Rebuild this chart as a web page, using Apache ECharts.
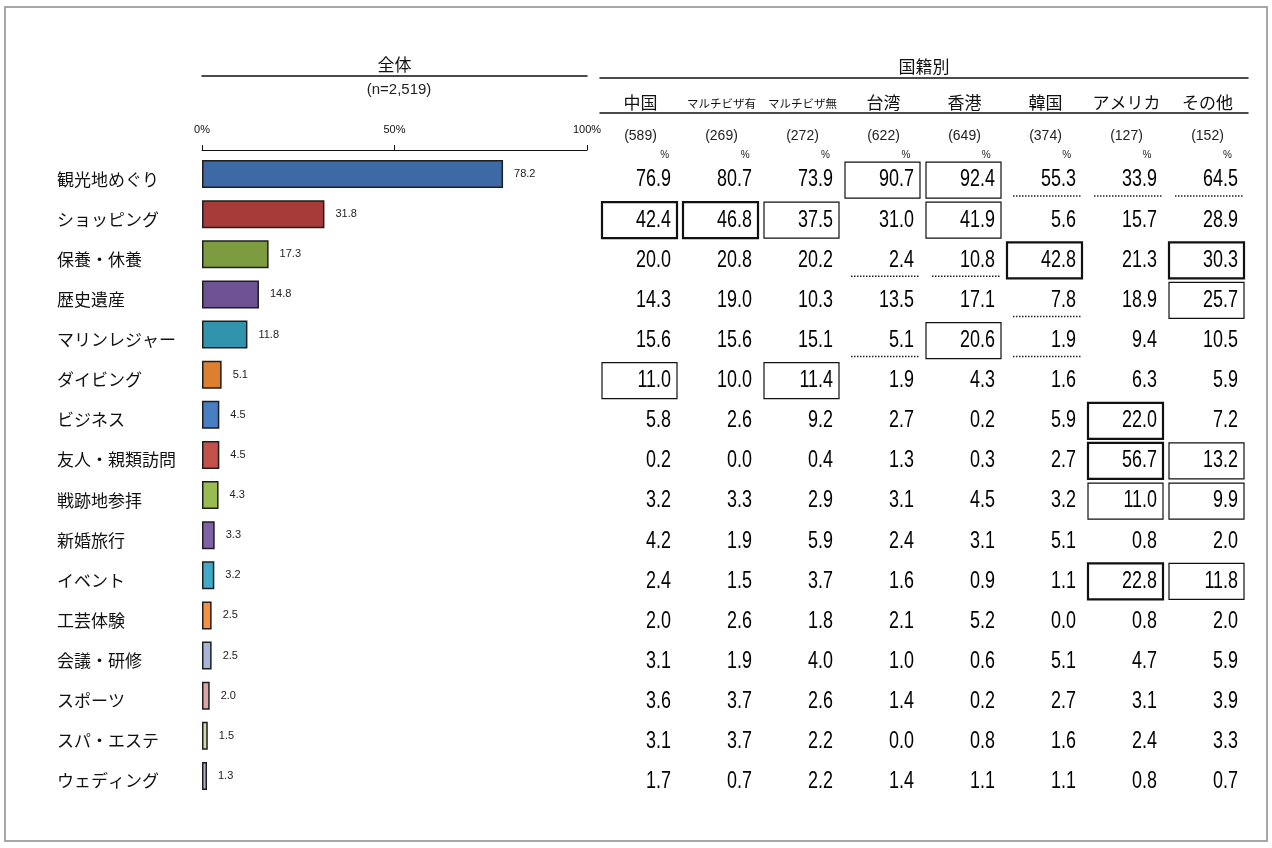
<!DOCTYPE html>
<html lang="ja">
<head>
<meta charset="UTF-8">
<title>観光目的（国籍別）</title>
<style>
    html, body { margin: 0; width: 100%; height: 100%; background: #fff; }
    #main { width: 1272px; height: 848px; }
</style>
</head>
<body>
<div id="main"></div>
<script src="https://cdn.jsdelivr.net/npm/echarts@6/dist/echarts.min.js"></script>
<script>
    var categories = ['観光地めぐり', 'ショッピング', '保養・休養', '歴史遺産', 'マリンレジャー', 'ダイビング',
        'ビジネス', '友人・親類訪問', '戦跡地参拝', '新婚旅行', 'イベント', '工芸体験', '会議・研修',
        'スポーツ', 'スパ・エステ', 'ウェディング'];
    var total = [78.2, 31.8, 17.3, 14.8, 11.8, 5.1, 4.5, 4.5, 4.3, 3.3, 3.2, 2.5, 2.5, 2.0, 1.5, 1.3];
    var barColors = ['#3d69a4', '#a63b3a', '#7d9c40', '#6d5294', '#3293ad', '#dc7f2e', '#4a7ec2', '#c4504c',
        '#98bb52', '#7f62a6', '#41aac6', '#f6923f', '#a9b4da', '#dba6a5', '#cfdcb0', '#b4b1c9'];

    var columns = ['中国', 'マルチビザ有', 'マルチビザ無', '台湾', '香港', '韓国', 'アメリカ', 'その他'];
    var sampleSizes = ['(589)', '(269)', '(272)', '(622)', '(649)', '(374)', '(127)', '(152)'];

    var china = [76.9, 42.4, 20.0, 14.3, 15.6, 11.0, 5.8, 0.2, 3.2, 4.2, 2.4, 2.0, 3.1, 3.6, 3.1, 1.7];
    var multiYes = [80.7, 46.8, 20.8, 19.0, 15.6, 10.0, 2.6, 0.0, 3.3, 1.9, 1.5, 2.6, 1.9, 3.7, 3.7, 0.7];
    var multiNo = [73.9, 37.5, 20.2, 10.3, 15.1, 11.4, 9.2, 0.4, 2.9, 5.9, 3.7, 1.8, 4.0, 2.6, 2.2, 2.2];
    var taiwan = [90.7, 31.0, 2.4, 13.5, 5.1, 1.9, 2.7, 1.3, 3.1, 2.4, 1.6, 2.1, 1.0, 1.4, 0.0, 1.4];
    var hongkong = [92.4, 41.9, 10.8, 17.1, 20.6, 4.3, 0.2, 0.3, 4.5, 3.1, 0.9, 5.2, 0.6, 0.2, 0.8, 1.1];
    var korea = [55.3, 5.6, 42.8, 7.8, 1.9, 1.6, 5.9, 2.7, 3.2, 5.1, 1.1, 0.0, 5.1, 2.7, 1.6, 1.1];
    var usa = [33.9, 15.7, 21.3, 18.9, 9.4, 6.3, 22.0, 56.7, 11.0, 0.8, 22.8, 0.8, 4.7, 3.1, 2.4, 0.8];
    var others = [64.5, 28.9, 30.3, 25.7, 10.5, 5.9, 7.2, 13.2, 9.9, 2.0, 11.8, 2.0, 5.9, 3.9, 3.3, 0.7];

    // [column, row, 1 = box, 2 = bold box]
    var highCells = [[3, 0, 1], [4, 0, 1], [0, 1, 2], [1, 1, 2], [2, 1, 1], [4, 1, 1], [5, 2, 2], [7, 2, 2],
        [7, 3, 1], [4, 4, 1], [0, 5, 1], [2, 5, 1], [6, 6, 2], [6, 7, 2], [7, 7, 1], [6, 8, 1], [7, 8, 1],
        [6, 10, 2], [7, 10, 1]];
    // [column, row] dotted underline
    var lowCells = [[5, 0], [6, 0], [7, 0], [3, 2], [4, 2], [5, 3], [3, 4], [5, 4]];

    var numFont = '"Liberation Sans", Arial, sans-serif';
    var jpFont = '"Noto Sans CJK JP", sans-serif';

    var GRID_TOP = 154;
    var GRID_H = 642;

    var byCountry = [china, multiYes, multiNo, taiwan, hongkong, korea, usa, others];
    var marks = {};
    highCells.forEach(function (c) { marks[c[0] + '_' + c[1]] = c[2]; });
    lowCells.forEach(function (c) { marks[c[0] + '_' + c[1]] = -1; });
    var cells = [];
    byCountry.forEach(function (vals, col) {
        vals.forEach(function (v, row) {
            cells.push([col, row, v, marks[col + '_' + row] || 0]);
        });
    });

    function renderCell(params, api) {
        var p = api.coord([api.value(0), api.value(1)]);
        var size = api.size([1, 1]);
        var x0 = p[0] - size[0] / 2;
        var x1 = p[0] + size[0] / 2;
        var cy = p[1] + 6;
        var kids = [{
            type: 'text',
            x: x1 - 10, y: cy,
            scaleX: 0.78,
            style: {
                text: api.value(2).toFixed(1),
                x: 0, y: 0,
                align: 'right', verticalAlign: 'middle',
                fontSize: 23, fontFamily: numFont, fill: '#000'
            }
        }];
        var m = api.value(3);
        if (m > 0) {
            kids.push({
                type: 'rect',
                shape: { x: x0 + 2, y: cy - 18, width: size[0] - 6, height: 36 },
                style: { fill: null, stroke: '#111', lineWidth: m === 2 ? 2.2 : 1.2 }
            });
        } else if (m < 0) {
            kids.push({
                type: 'line',
                shape: { x1: x0 + 8, y1: cy + 16, x2: x1 - 5, y2: cy + 16 },
                style: { stroke: '#222', lineWidth: 1.5, lineDash: [1.5, 1.5] }
            });
        }
        return { type: 'group', children: kids };
    }

    var myChart = echarts.init(document.getElementById('main'));
    var option = {
        backgroundColor: '#fff',
        animation: false,
        title: {
            text: '(n=2,519)',
            left: 394, top: 77, textAlign: 'center',
            textStyle: { fontSize: 15, fontWeight: 'normal', fontFamily: numFont, color: '#222' }
        },
        graphic: [{
            type: 'rect',
            shape: { x: 5, y: 7, width: 1262, height: 834 },
            style: { fill: null, stroke: '#8a8a8a', lineWidth: 1.5 }
        }],
        grid: [
            { left: 202, width: 385, top: GRID_TOP, height: GRID_H },
            { left: 600, width: 648, top: GRID_TOP, height: GRID_H },
            { left: 629, width: 648, top: 155, height: 600 }
        ],
        xAxis: [{
            gridIndex: 0, type: 'value', position: 'top', min: 0, max: 100, interval: 50, offset: GRID_TOP - 150,
            axisLine: { show: true, lineStyle: { color: '#111', width: 1 } },
            axisTick: { show: true, length: 5, lineStyle: { color: '#111' } },
            splitLine: { show: false },
            axisLabel: { formatter: '{value}%', fontSize: 11, fontFamily: numFont, color: '#111', margin: 15 }
        }, {
            gridIndex: 0, type: 'value', position: 'top', min: 0, max: 100, offset: GRID_TOP - 76,
            name: '全体', nameLocation: 'middle', nameGap: 3,
            nameTextStyle: { fontSize: 17, fontFamily: jpFont, color: '#111', verticalAlign: 'bottom' },
            axisLine: { show: true, lineStyle: { color: '#111', width: 1.5 } },
            axisTick: { show: false }, axisLabel: { show: false }, splitLine: { show: false }
        }, {
            gridIndex: 1, type: 'category', position: 'top', data: columns, offset: GRID_TOP - 113,
            axisLine: { show: true, lineStyle: { color: '#111', width: 1.5 } },
            axisTick: { show: false },
            axisLabel: {
                margin: 2, interval: 0,
                formatter: function (v) {
                    return v.indexOf('マルチ') === 0 ? '{s|' + v + '}' : '{b|' + v + '}';
                },
                rich: {
                    b: { fontSize: 17, fontFamily: jpFont, color: '#111' },
                    s: { fontSize: 11.5, fontFamily: jpFont, color: '#111', padding: [0, 0, 2, 0] }
                }
            }
        }, {
            gridIndex: 1, type: 'category', position: 'top', data: columns, offset: GRID_TOP - 78,
            name: '国籍別', nameLocation: 'middle', nameGap: 3,
            nameTextStyle: { fontSize: 17, fontFamily: jpFont, color: '#111', verticalAlign: 'bottom' },
            axisLine: { show: true, lineStyle: { color: '#111', width: 1.5 } },
            axisTick: { show: false }, axisLabel: { show: false }
        }, {
            gridIndex: 1, type: 'category', position: 'top', data: columns, offset: GRID_TOP - 158,
            axisLine: { show: false }, axisTick: { show: false },
            axisLabel: {
                margin: 15, interval: 0, fontSize: 14, fontFamily: numFont, color: '#222',
                formatter: function (v, i) { return sampleSizes[i]; }
            }
        }, {
            gridIndex: 2, type: 'category', position: 'top', data: columns,
            axisLine: { show: false }, axisTick: { show: false },
            axisLabel: {
                margin: 0, interval: 0, align: 'right', verticalAlign: 'middle',
                fontSize: 10, fontFamily: numFont, color: '#222',
                formatter: function () { return '%'; }
            }
        }],
        yAxis: [{
            gridIndex: 0, type: 'category', inverse: true, data: categories,
            axisLine: { show: false }, axisTick: { show: false },
            axisLabel: {
                align: 'left', margin: 145,
                formatter: function (v) { return '{l|' + v + '}'; },
                rich: {
                    l: { fontSize: 17, fontFamily: jpFont, color: '#111', padding: [10, 0, 0, 0] }
                }
            }
        }, {
            gridIndex: 1, type: 'category', inverse: true, data: categories, show: false
        }, {
            gridIndex: 2, type: 'value', min: 0, max: 1, show: false
        }],
        series: [{
            type: 'bar',
            xAxisIndex: 0, yAxisIndex: 0,
            barWidth: 28,
            data: total.map(function (v, i) {
                return { value: v, itemStyle: { color: barColors[i] } };
            }),
            itemStyle: { borderColor: '#1e1e1e', borderWidth: 1.5 },
            label: {
                show: true, position: 'right', distance: 11,
                fontSize: 11, fontFamily: numFont, color: '#222',
                formatter: function (p) { return p.value.toFixed(1); }
            }
        }, {
            type: 'custom',
            xAxisIndex: 2, yAxisIndex: 1,
            coordinateSystem: 'cartesian2d',
            encode: { x: 0, y: 1 },
            data: cells,
            renderItem: renderCell
        }]
    };
    myChart.setOption(option);
</script>
</body>
</html>
